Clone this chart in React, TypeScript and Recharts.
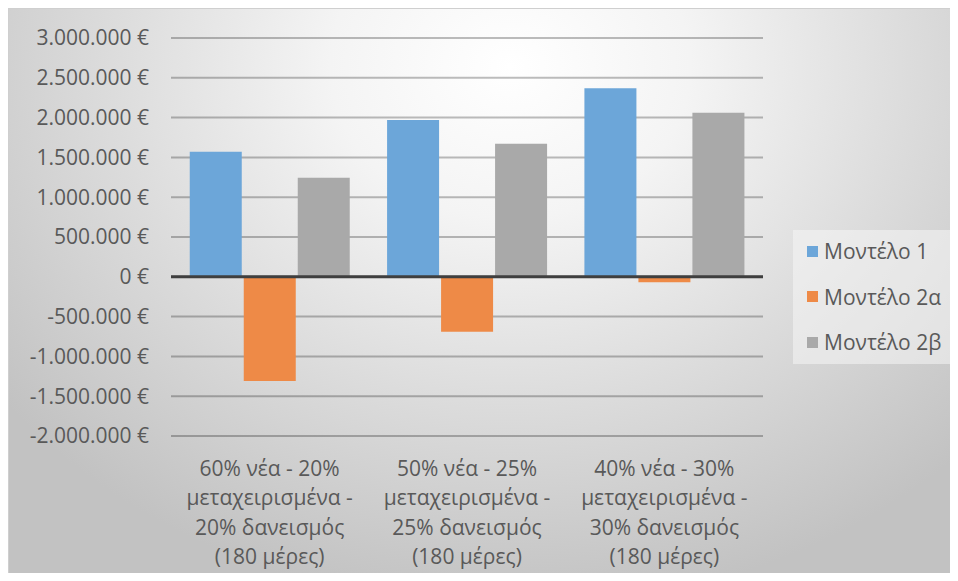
import React from "react";
import {
  BarChart,
  Bar,
  XAxis,
  YAxis,
  CartesianGrid,
  ReferenceLine,
  Legend,
} from "recharts";

// Scenarios (x axis), each label broken into its four lines
const scenarios = ["60/20/20", "50/25/25", "40/30/30"];
const scenarioLines = [
  ["60% νέα - 20%", "μεταχειρισμένα -", "20% δανεισμός", "(180 μέρες)"],
  ["50% νέα - 25%", "μεταχειρισμένα -", "25% δανεισμός", "(180 μέρες)"],
  ["40% νέα - 30%", "μεταχειρισμένα -", "30% δανεισμός", "(180 μέρες)"],
];

// Series values (€)
const model1 = [1570000, 1970000, 2370000];
const model2a = [-1310000, -690000, -70000];
const model2b = [1245000, 1670000, 2060000];

const yTicks = [-2000000, -1500000, -1000000, -500000, 0, 500000, 1000000, 1500000, 2000000, 2500000, 3000000];

const seriesNames = ["Μοντέλο 1", "Μοντέλο 2α", "Μοντέλο 2β"];
const seriesColors = ["#6ca6d9", "#ee8a47", "#a9a9a9"];

const data = scenarios.map((s, i) => ({
  scenario: s,
  m1: model1[i],
  m2a: model2a[i],
  m2b: model2b[i],
}));

const FONT = "'Open Sans', sans-serif";
const TEXT = "#595959";

// 1500000 -> "1.500.000 €"
function euro(v: number) {
  const s = Math.abs(v).toString().replace(/\B(?=(\d{3})+(?!\d))/g, ".");
  return (v < 0 ? "-" : "") + s + " €";
}

function ScenarioTick(props: any) {
  const { x, y, index } = props;
  const lines = scenarioLines[index] || [];
  return (
    <text x={x} y={y} textAnchor="middle" fill={TEXT} fontSize={21} fontFamily={FONT}>
      {lines.map((l, i) => (
        <tspan key={i} x={x} y={y + 24 + i * 29.3} dominantBaseline="central">
          {l}
        </tspan>
      ))}
    </text>
  );
}

function LegendBox() {
  return (
    <div
      style={{
        width: 161,
        height: 134,
        boxSizing: "border-box",
        background: "rgba(246,246,246,0.55)",
        fontFamily: FONT,
        fontSize: 21,
        color: TEXT,
        position: "relative",
      }}
    >
      {seriesNames.map((n, i) => (
        <div
          key={n}
          style={{
            position: "absolute",
            left: 14,
            top: 21 + i * 45.5 - 14,
            height: 28,
            display: "flex",
            alignItems: "center",
            whiteSpace: "nowrap",
          }}
        >
          <span style={{ width: 11, height: 11, background: seriesColors[i], marginRight: 6 }} />
          {n}
        </div>
      ))}
    </div>
  );
}

export default function App() {
  return (
    <div
      style={{
        width: 948,
        height: 573,
        marginBottom: -8,
        overflow: "hidden",
        boxSizing: "border-box",
        borderTop: "1px solid #cfcfcf",
        borderRight: "1px solid #cfcfcf",
        borderLeft: "1px solid #cfcfcf",
        background:
          "radial-gradient(ellipse 68% 95% at 53% 10%, #ffffff 0%, #f4f4f4 28%, #dcdcdc 62%, #c2c2c2 100%)",
      }}
    >
      <BarChart
        width={948}
        height={573}
        data={data}
        margin={{ top: 29, right: 33, left: 0, bottom: 116 }}
        barCategoryGap="9.5%"
        barGap={2}
      >
        <CartesianGrid vertical={false} stroke="rgba(0,0,0,0.26)" strokeWidth={2} />
        <XAxis
          dataKey="scenario"
          axisLine={false}
          tickLine={false}
          interval={0}
          tick={<ScenarioTick />}
        />
        <YAxis
          width={162}
          domain={[-2000000, 3000000]}
          ticks={yTicks}
          axisLine={false}
          tickLine={false}
          tickSize={0}
          tickMargin={22}
          tickFormatter={euro}
          tick={{ fill: TEXT, fontSize: 21, fontFamily: FONT }}
        />
        <Bar dataKey="m1" name={seriesNames[0]} fill={seriesColors[0]} isAnimationActive={false} />
        <Bar dataKey="m2a" name={seriesNames[1]} fill={seriesColors[1]} isAnimationActive={false} />
        <Bar dataKey="m2b" name={seriesNames[2]} fill={seriesColors[2]} isAnimationActive={false} />
        <ReferenceLine y={0} stroke="#3f3f3f" strokeWidth={3} />
        <Legend
          layout="vertical"
          align="right"
          verticalAlign="top"
          content={<LegendBox />}
          wrapperStyle={{ left: 784, top: 221, width: 161, height: 134 }}
        />
      </BarChart>
    </div>
  );
}
